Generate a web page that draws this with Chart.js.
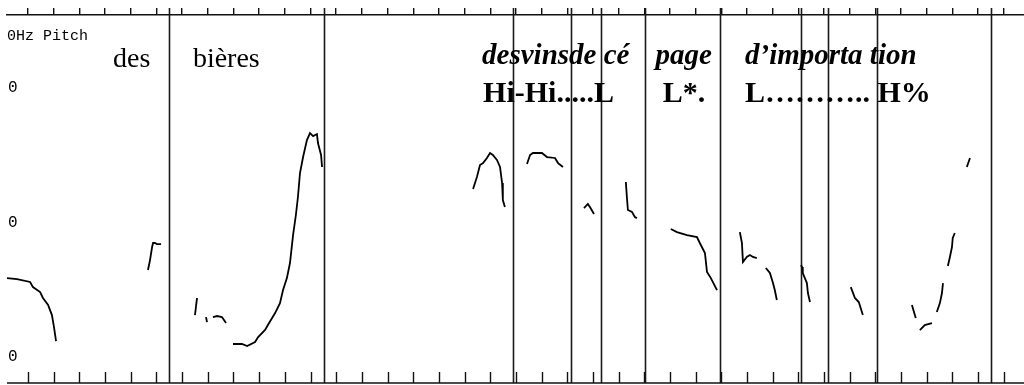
<!DOCTYPE html>
<html><head><meta charset="utf-8">
<script src="https://cdn.jsdelivr.net/npm/chart.js@4/dist/chart.umd.min.js"></script>
<style>html,body{margin:0;padding:0;background:#fff;overflow:hidden}#wrap{width:1024px;height:385px;position:relative}</style>
</head><body><div id="wrap"><canvas id="c" width="1024" height="385"></canvas></div>
<script>
// time ticks (s) along top and bottom axes
const timeTicks = [0,0.1,0.2,0.3,0.4,0.5,0.6,0.7,0.8,0.9,1.0,1.1,1.2,1.3,1.4,1.5,1.6,1.7,1.8,1.9,2.0,2.1,2.2,2.3,2.4,2.5,2.6,2.7,2.8,2.9,3.0,3.1,3.2,3.3,3.4,3.5,3.6,3.7,3.8];
const yTickValues = [100, 200, 300];
const yTickLabels = ['0', '0', '0'];
const axisTitle = '0Hz Pitch';
// segment boundaries (s)
const boundaries = [0.549, 1.152, 1.888, 2.114, 2.231, 2.402, 2.694, 3.010, 3.115, 3.306, 3.749];
// annotation tiers
const words = ['des', 'bières'];
const wordTimes = [0.331, 0.642];
const focusWords = ['desvinsde cé', 'page', 'd’importa tion'];
const focusTimes = [1.768, 2.443, 2.792];
const tones = ['Hi-Hi.....L', 'L*.', 'L……….. H%'];
const toneTimes = [1.772, 2.472, 2.792];
// pitch track segments: [time (s), F0 (Hz)]
const segA = [[-0.082,158.7],[-0.043,158.0],[0.008,155.8],[0.019,152.0],[0.047,148.3],[0.058,143.9],[0.078,138.7],[0.093,131.2],[0.101,122.3],[0.109,111.9]];
const segB = [[0.467,164.7],[0.475,172.1],[0.483,181.8],[0.487,184.8],[0.494,184.8],[0.502,184.0],[0.518,184.0]];
const segC = [[0.658,143.9],[0.650,131.2]];
const segD = [[0.693,129.7],[0.697,126.0]];
const segE = [[0.720,129.7],[0.736,130.5],[0.755,129.7],[0.771,125.3]];
const segF = [[0.798,109.7],[0.833,109.7],[0.853,108.2],[0.884,111.2],[0.896,114.9],[0.923,120.1],[0.934,123.8],[0.962,132.7],[0.981,140.1],[0.993,149.8],[1.008,158.7],[1.020,169.9],[1.032,190.7],[1.043,205.6],[1.051,219.0],[1.059,236.8],[1.071,248.7],[1.086,261.3],[1.098,266.5],[1.110,264.3],[1.125,265.8],[1.129,259.1],[1.141,250.2],[1.145,241.3]];
const segG = [[1.733,224.9],[1.748,233.8],[1.760,242.8],[1.772,244.2],[1.787,248.0],[1.799,251.7],[1.810,250.2],[1.826,246.5],[1.838,241.3],[1.846,229.4],[1.849,216.7],[1.857,211.5]];
const segH = [[1.943,243.5],[1.955,250.2],[1.966,251.7],[2.001,251.7],[2.021,248.7],[2.052,248.0],[2.064,244.2],[2.083,241.3]];
const segI = [[2.165,210.8],[2.180,213.8],[2.188,211.5],[2.204,206.3]];
const segJ = [[2.328,230.1],[2.332,219.0],[2.336,209.3],[2.352,207.8],[2.363,204.1],[2.371,203.3]];
const segK = [[2.503,195.2],[2.527,192.9],[2.566,190.7],[2.605,189.2],[2.616,184.8],[2.636,177.3],[2.644,163.2],[2.659,158.7],[2.683,149.8]];
const segL = [[2.772,192.9],[2.780,184.8],[2.784,170.6],[2.799,174.4],[2.811,175.8],[2.823,174.4],[2.838,173.6]];
const segM = [[2.873,166.2],[2.889,162.5],[2.901,155.0],[2.908,149.8],[2.916,142.4]];
const segN = [[3.010,168.4],[3.014,166.9],[3.017,162.5],[3.033,155.0],[3.037,147.6],[3.045,140.9]];
const segO = [[3.204,152.0],[3.220,143.9],[3.235,140.9],[3.251,131.2]];
const segP = [[3.442,138.7],[3.457,129.0]];
const segQ = [[3.473,120.1],[3.492,123.8],[3.520,125.3]];
const segR = [[3.539,133.5],[3.551,140.1],[3.559,147.6],[3.563,155.0]];
const segS = [[3.582,167.7],[3.590,174.4],[3.598,181.8],[3.601,188.5],[3.609,192.2]];
const segT = [[3.656,241.3],[3.668,248.0]];
const segments = [segA,segB,segC,segD,segE,segF,segG,segH,segI,segJ,segK,segL,segM,segN,segO,segP,segQ,segR,segS,segT];

const ink = '#111';
const overlay = {
  id: 'overlay',
  beforeDatasetsDraw(chart) {
    const {ctx, chartArea: a, scales: {x}} = chart;
    ctx.save();
    ctx.strokeStyle = '#1a1a1a';
    ctx.lineWidth = 1.6;
    boundaries.forEach(t => {
      const px = Math.round(x.getPixelForValue(t)) + 0.5;
      ctx.beginPath(); ctx.moveTo(px, a.top - 7); ctx.lineTo(px, a.bottom); ctx.stroke();
    });
    ctx.restore();
  },
  afterDraw(chart) {
    const {ctx, chartArea: a, scales: {x}} = chart;
    ctx.save();
    // bottom axis with inward ticks
    ctx.strokeStyle = ink; ctx.lineWidth = 1.5;
    ctx.beginPath(); ctx.moveTo(a.left, a.bottom); ctx.lineTo(a.right, a.bottom); ctx.stroke();
    ctx.lineWidth = 1.4;
    timeTicks.forEach(t => {
      const px = Math.round(x.getPixelForValue(t)) + 0.5;
      ctx.beginPath(); ctx.moveTo(px, a.bottom - 11); ctx.lineTo(px, a.bottom); ctx.stroke();
    });
    ctx.fillStyle = '#000';
    ctx.textBaseline = 'alphabetic';
    ctx.textAlign = 'left';
    ctx.font = '15px "Liberation Mono"';
    ctx.fillText(axisTitle, a.left, 40);
    ctx.font = '28px "Liberation Serif"';
    words.forEach((w, i) => ctx.fillText(w, x.getPixelForValue(wordTimes[i]), 67));
    ctx.font = 'italic bold 29px "Liberation Serif"';
    focusWords.forEach((w, i) => ctx.fillText(w, x.getPixelForValue(focusTimes[i]), 64));
    ctx.font = 'bold 30px "Liberation Serif"';
    tones.forEach((w, i) => ctx.fillText(w, x.getPixelForValue(toneTimes[i]), 102));
    ctx.restore();
  }
};

new Chart(document.getElementById('c'), {
  type: 'line',
  data: {
    datasets: segments.map(s => ({
      data: s.map(([t, f]) => ({x: t, y: f})),
      borderColor: '#000', borderWidth: 1.8, pointRadius: 0, fill: false, tension: 0
    }))
  },
  options: {
    responsive: false, animation: false, devicePixelRatio: 1,
    layout: {padding: {left: 7, right: 0, top: 0, bottom: 2}},
    plugins: {legend: {display: false}, tooltip: {enabled: false}},
    scales: {
      x: {
        type: 'linear', position: 'top', min: -0.082, max: 3.8785,
        afterBuildTicks: s => { s.ticks = timeTicks.map(v => ({value: v})); },
        afterFit: s => { s.height = 15; s.paddingLeft = 0; s.paddingRight = 0; },
        ticks: {display: false},
        grid: {drawOnChartArea: false, drawTicks: true, tickLength: 7, color: ink, lineWidth: 1.4},
        border: {display: true, color: ink, width: 1.5}
      },
      y: {
        type: 'linear', min: 80.7, max: 354.3,
        afterBuildTicks: s => { s.ticks = yTickValues.map(v => ({value: v})); },
        afterFit: s => { s.width = 0; s.paddingTop = 0; s.paddingBottom = 0; },
        ticks: {mirror: true, padding: 1, color: '#000', font: {family: 'Liberation Mono', size: 16},
          callback: (v, i) => yTickLabels[i]},
        grid: {display: false},
        border: {display: false}
      }
    }
  },
  plugins: [overlay]
});
</script></body></html>
